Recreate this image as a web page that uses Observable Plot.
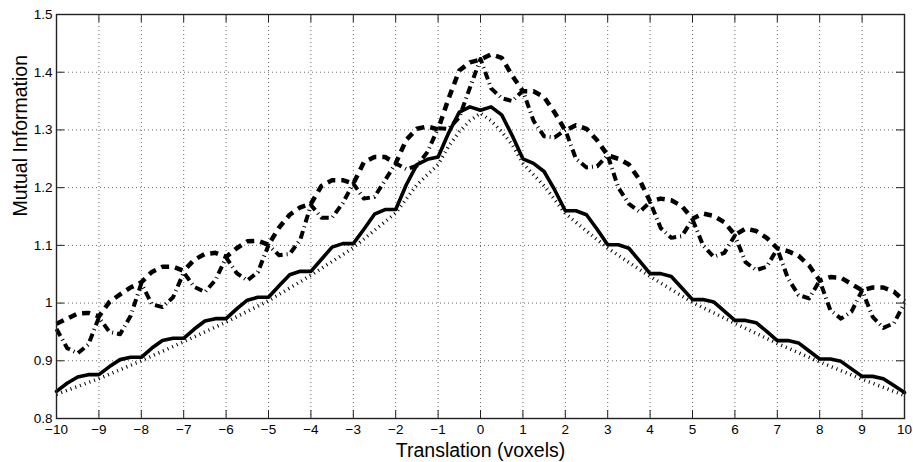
<!DOCTYPE html>
<html><head><meta charset="utf-8">
<script src="https://cdn.jsdelivr.net/npm/d3@7"></script>
<script src="https://cdn.jsdelivr.net/npm/@observablehq/plot@0.6"></script>
<style>body{margin:0;background:#fff} #chart svg{display:block}</style>
</head><body><div id="chart"></div>
<script>
const xTicks = [-10,-9,-8,-7,-6,-5,-4,-3,-2,-1,0,1,2,3,4,5,6,7,8,9,10];
const yTicks = [0.8,0.9,1.0,1.1,1.2,1.3,1.4,1.5];

const xs = [-10,-9.75,-9.5,-9.25,-9,-8.75,-8.5,-8.25,-8,-7.75,-7.5,-7.25,-7,-6.75,-6.5,-6.25,-6,-5.75,-5.5,-5.25,-5,-4.75,-4.5,-4.25,-4,-3.75,-3.5,-3.25,-3,-2.75,-2.5,-2.25,-2,-1.75,-1.5,-1.25,-1,-0.75,-0.5,-0.25,0,0.25,0.5,0.75,1,1.25,1.5,1.75,2,2.25,2.5,2.75,3,3.25,3.5,3.75,4,4.25,4.5,4.75,5,5.25,5.5,5.75,6,6.25,6.5,6.75,7,7.25,7.5,7.75,8,8.25,8.5,8.75,9,9.25,9.5,9.75,10];

const solid = [0.847,0.861,0.872,0.876,0.876, 0.890,0.902,0.906,0.906, 0.922,0.935,0.939,0.939, 0.955,0.969,0.973,0.973, 0.990,1.005,1.010,1.010, 1.030,1.049,1.055,1.055, 1.076,1.097,1.103,1.103, 1.128,1.154,1.162,1.162, 1.205,1.240,1.249,1.253, 1.295,1.331,1.340,1.334, 1.340,1.326,1.290,1.250, 1.242,1.228,1.196,1.160, 1.160,1.153,1.128,1.101, 1.101,1.095,1.073,1.051, 1.051,1.046,1.026,1.006, 1.006,1.002,0.986,0.970, 0.970,0.966,0.951,0.935, 0.935,0.931,0.917,0.903, 0.903,0.899,0.886,0.873, 0.873,0.869,0.857,0.845];

const dashed = [0.964,0.973,0.982,0.983,0.977, 1.002,1.015,1.027,1.036, 1.054,1.063,1.063,1.056, 1.075,1.085,1.087,1.080, 1.095,1.107,1.108,1.101, 1.131,1.153,1.166,1.172, 1.203,1.213,1.213,1.207, 1.244,1.253,1.253,1.242, 1.283,1.302,1.306,1.301, 1.355,1.403,1.417,1.422, 1.431,1.425,1.394,1.367, 1.367,1.357,1.330,1.299, 1.308,1.302,1.282,1.256, 1.250,1.240,1.214,1.176, 1.181,1.178,1.168,1.146, 1.155,1.151,1.140,1.118, 1.129,1.125,1.113,1.095, 1.090,1.082,1.065,1.039, 1.045,1.044,1.033,1.022, 1.027,1.027,1.020,1.003];

const dashdot = [0.955,0.922,0.913,0.928,0.975, 0.950,0.946,0.978,1.034, 0.998,0.993,1.010,1.053, 1.028,1.019,1.040,1.079, 1.052,1.039,1.054,1.100, 1.083,1.085,1.110,1.170, 1.148,1.148,1.173,1.207, 1.181,1.184,1.213,1.242, 1.232,1.238,1.262,1.303, 1.302,1.322,1.373,1.423, 1.372,1.355,1.350,1.368, 1.316,1.289,1.287,1.300, 1.250,1.235,1.237,1.256, 1.200,1.172,1.158,1.175, 1.130,1.113,1.116,1.145, 1.100,1.080,1.087,1.117, 1.071,1.057,1.063,1.094, 1.043,1.014,1.008,1.039, 0.988,0.973,0.985,1.022, 0.976,0.957,0.965,1.000];

const xsDot = [-10,-9,-8,-7,-6,-5,-4,-3,-2,-1.5,-1,-0.75,-0.5,-0.25,0,0.25,0.5,0.75,1,1.5,2,3,4,5,6,7,8,9,10];
const dotted = [0.842,0.869,0.900,0.933,0.967,1.004,1.048,1.096,1.156,1.205,1.240,1.272,1.297,1.316,1.329,1.316,1.297,1.274,1.242,1.203,1.155,1.095,1.046,1.001,0.965,0.930,0.898,0.868,0.840];

const rows = (xArr, yArr) => xArr.map((x, i) => ({x, y: yArr[i]}));

const W = 913, H = 462, mL = 56, mR = 9, mT = 14, mB = 44;
const innerW = W - mL - mR, innerH = H - mT - mB, tick = 8;
const fmtY = d => String(+d.toFixed(1));
const font = "'Liberation Sans', Arial, Helvetica, sans-serif";

const chart = Plot.plot({
  width: W, height: H,
  marginLeft: mL, marginRight: mR, marginTop: mT, marginBottom: mB,
  style: {fontFamily: font, fontSize: "13.5px", color: "#000", background: "#fff"},
  x: {domain: [-10, 10], axis: null, label: null},
  y: {domain: [0.8, 1.5], axis: null, label: null},
  marks: [
    Plot.gridX(xTicks.slice(1, -1), {stroke: "#666", strokeOpacity: 1, strokeWidth: 1, strokeDasharray: "1,3"}),
    Plot.gridY(yTicks.slice(1, -1), {stroke: "#666", strokeOpacity: 1, strokeWidth: 1, strokeDasharray: "1,3"}),
    Plot.line(rows(xsDot, dotted), {x: "x", y: "y", stroke: "#000", strokeWidth: 3.5, strokeDasharray: "1,4", strokeLinecap: "butt"}),
    Plot.line(rows(xs, dashdot), {x: "x", y: "y", stroke: "#000", strokeWidth: 4, strokeDasharray: "8,4,1,4", strokeLinecap: "butt"}),
    Plot.line(rows(xs, dashed), {x: "x", y: "y", stroke: "#000", strokeWidth: 4.5, strokeDasharray: "8,6", strokeLinecap: "butt"}),
    Plot.line(rows(xs, solid), {x: "x", y: "y", stroke: "#000", strokeWidth: 3.6}),
    Plot.ruleX(xTicks, {insetTop: innerH - tick, stroke: "#222"}),
    Plot.ruleX(xTicks, {insetBottom: innerH - tick, stroke: "#222"}),
    Plot.ruleY(yTicks, {insetRight: innerW - tick, stroke: "#222"}),
    Plot.ruleY(yTicks, {insetLeft: innerW - tick, stroke: "#222"}),
    Plot.frame({stroke: "#222", strokeWidth: 1.4}),
    Plot.axisX(xTicks, {tickSize: 0, tickPadding: 6, label: null}),
    Plot.axisY(yTicks, {tickSize: 0, tickPadding: 4, label: null, tickFormat: fmtY}),
    Plot.text(["Translation (voxels)"], {text: d => d, frameAnchor: "bottom", dy: 38, fontSize: 19.5}),
    Plot.text(["Mutual Information"], {text: d => d, frameAnchor: "left", dx: -36, rotate: -90, fontSize: 19.5})
  ]
});
document.getElementById("chart").append(chart);
</script>
</body></html>
